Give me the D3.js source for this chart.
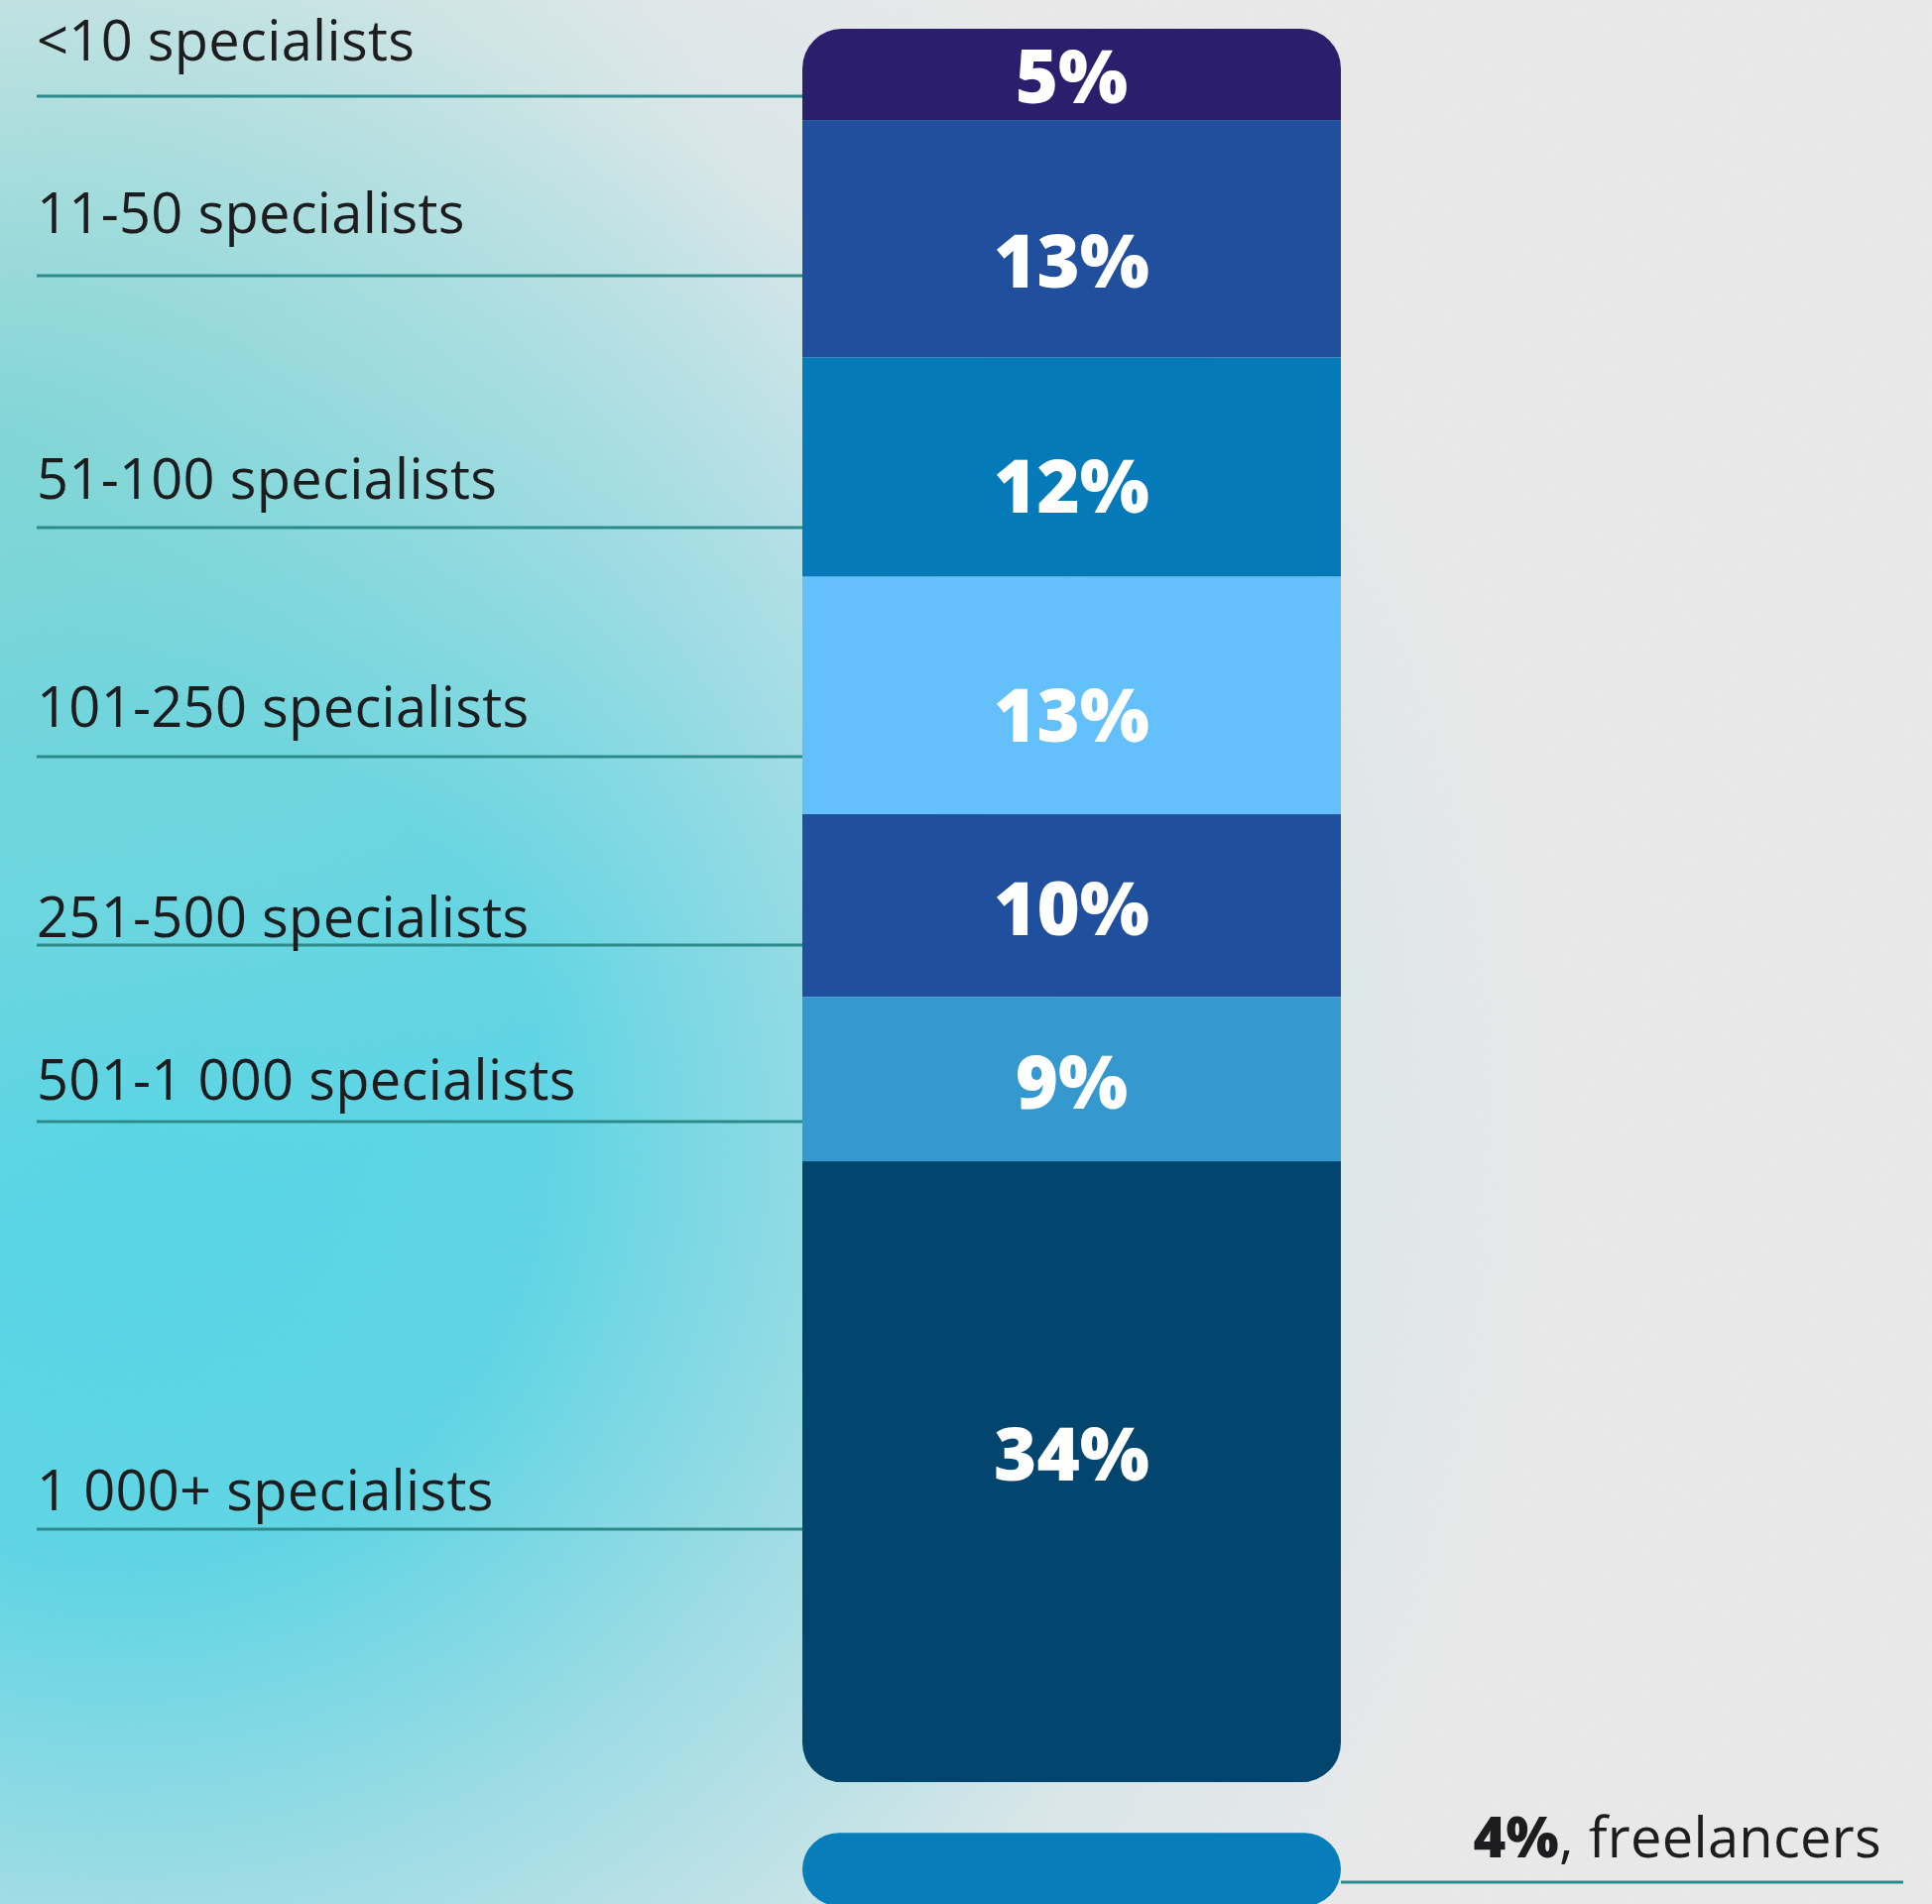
<!DOCTYPE html>
<html>
<head>
<meta charset="utf-8">
<script src="https://cdn.jsdelivr.net/npm/d3@7"></script>
<style>
  html, body { margin: 0; padding: 0; background: #ebebeb; }
  svg { display: block; }
</style>
</head>
<body>
<svg id="chart" width="1948" height="1920"></svg>
<script>
// Company size groups, in stacking order from top to bottom
const categories = [
  "<10 specialists",
  "11-50 specialists",
  "51-100 specialists",
  "101-250 specialists",
  "251-500 specialists",
  "501-1 000 specialists",
  "1 000+ specialists"
];
// Share of respondents per group, percent
const shares = [5, 13, 12, 13, 10, 9, 34];
// Separate bar below the stack
const freelanceLabel = "freelancers";
const freelanceShare = 4;

// Segment fills, top to bottom
const segmentColors = ["#2b1e6d", "#1f4f9d", "#047bb8", "#63c0fb", "#1f4f9d", "#3598cf", "#02466f"];
const freelanceColor = "#077dba";

// ---- layout ----
const W = 1948, H = 1920;
const barX0 = 809, barX1 = 1352;
const barTop = 29;
const pxPerPct = 18.42;
const gapBelow = 51;              // space between stacked bar and freelance bar
const cornerR = 40;
const lineX0 = 37;
const labelBaseline = [61, 235, 503, 733, 945, 1109, 1523];
const leaderY = [97, 278, 532, 763, 953, 1131, 1542];
const pctNudge = [3, 23, 20, 20, 3, 3, -18];   // vertical tweak of value labels
const labelFont = "'Open Sans', 'Noto Sans', sans-serif";

const svg = d3.select("#chart");
const defs = svg.append("defs");

// background: cool grey with a cyan glow on the left
const rg = defs.append("radialGradient")
  .attr("id", "glow").attr("gradientUnits", "userSpaceOnUse")
  .attr("cx", 120).attr("cy", 1150).attr("r", 1450);
[[0, "#4fd6e8"], [0.3, "#5bd6e6"], [0.55, "#a2dfe7"], [0.8, "#dbe9eb"], [1, "#ebebeb"]]
  .forEach(([o, c]) => rg.append("stop").attr("offset", o).attr("stop-color", c));

// teal tint over the upper left
const tg = defs.append("radialGradient")
  .attr("id", "teal").attr("gradientUnits", "userSpaceOnUse")
  .attr("cx", 0).attr("cy", 450).attr("r", 800);
tg.append("stop").attr("offset", 0).attr("stop-color", "#6fd3cc").attr("stop-opacity", 0.6);
tg.append("stop").attr("offset", 0.6).attr("stop-color", "#8fdad5").attr("stop-opacity", 0.3);
tg.append("stop").attr("offset", 1).attr("stop-color", "#8fdad5").attr("stop-opacity", 0);

// fine grain over the background
const grain = defs.append("filter").attr("id", "grain")
  .attr("x", 0).attr("y", 0).attr("width", "100%").attr("height", "100%");
grain.append("feTurbulence").attr("type", "fractalNoise").attr("baseFrequency", 0.9)
  .attr("numOctaves", 2).attr("seed", 4).attr("result", "noise");
grain.append("feColorMatrix").attr("in", "noise").attr("type", "matrix")
  .attr("values", "0 0 0 0 0.5  0 0 0 0 0.5  0 0 0 0 0.5  0 0 0 0.12 0").attr("result", "g");
grain.append("feComposite").attr("in", "g").attr("in2", "SourceGraphic").attr("operator", "in");

svg.append("rect").attr("width", W).attr("height", H).attr("fill", "url(#glow)");
svg.append("rect").attr("width", W).attr("height", H).attr("fill", "url(#teal)");
svg.append("rect").attr("width", W).attr("height", H).attr("fill", "#fff").attr("filter", "url(#grain)");

// percent scale along the vertical
const y = d3.scaleLinear().domain([0, 100]).range([barTop, barTop + 100 * pxPerPct]);
const x = d3.scaleLinear().domain([0, 1]).range([barX0, barX1]);

const stackData = d3.stack().keys(categories)([Object.fromEntries(categories.map((c, i) => [c, shares[i]]))])
  .map((s, i) => ({ key: s.key, value: shares[i], y0: s[0][0], y1: s[0][1], color: segmentColors[i], i }));
const total = d3.sum(shares);

// rounded outline of the stacked bar
defs.append("clipPath").attr("id", "barClip")
  .append("rect")
  .attr("x", x(0)).attr("y", y(0))
  .attr("width", x(1) - x(0)).attr("height", y(total) - y(0))
  .attr("rx", cornerR).attr("ry", cornerR);

// leader lines
svg.append("g").selectAll("line").data(stackData).join("line")
  .attr("x1", lineX0).attr("x2", x(0))
  .attr("y1", d => leaderY[d.i]).attr("y2", d => leaderY[d.i])
  .attr("stroke", "#2c8b8a").attr("stroke-width", 3);

// category labels
svg.append("g").selectAll("text").data(stackData).join("text")
  .attr("x", lineX0).attr("y", d => labelBaseline[d.i])
  .attr("font-family", labelFont)
  .attr("font-size", 56).attr("letter-spacing", 0.3).attr("fill", "#1d1d1f")
  .text(d => d.key);

// stacked segments
const bar = svg.append("g").attr("clip-path", "url(#barClip)");
bar.selectAll("rect").data(stackData).join("rect")
  .attr("x", x(0)).attr("width", x(1) - x(0))
  .attr("y", d => y(d.y0)).attr("height", d => y(d.y1) - y(d.y0))
  .attr("fill", d => d.color);

// value labels
const pctSize = 74;
svg.append("g").selectAll("text").data(stackData).join("text")
  .attr("x", x(0.5))
  .attr("y", d => (y(d.y0) + y(d.y1)) / 2 + pctNudge[d.i] + pctSize * 0.357)
  .attr("text-anchor", "middle")
  .attr("font-family", labelFont)
  .attr("font-weight", 800).attr("font-size", pctSize).attr("fill", "#ffffff")
  .text(d => d.value + "%");

// freelance bar, set apart below the stack
const fy0 = y(total) + gapBelow;
const fy1 = fy0 + (y(freelanceShare) - y(0));
svg.append("rect")
  .attr("x", x(0)).attr("width", x(1) - x(0))
  .attr("y", fy0).attr("height", fy1 - fy0)
  .attr("rx", cornerR - 3).attr("ry", cornerR - 3)
  .attr("fill", freelanceColor);

const fLineY = 1898;
svg.append("line")
  .attr("x1", x(1)).attr("x2", 1919)
  .attr("y1", fLineY).attr("y2", fLineY)
  .attr("stroke", "#2c8b8a").attr("stroke-width", 3);

const ft = svg.append("text")
  .attr("x", 1897).attr("y", 1873)
  .attr("text-anchor", "end")
  .attr("font-family", labelFont)
  .attr("font-size", 56).attr("letter-spacing", 0.3).attr("fill", "#1d1d1f");
ft.append("tspan").attr("font-weight", 800).text(freelanceShare + "%");
ft.append("tspan").text(", " + freelanceLabel);
</script>
</body>
</html>
